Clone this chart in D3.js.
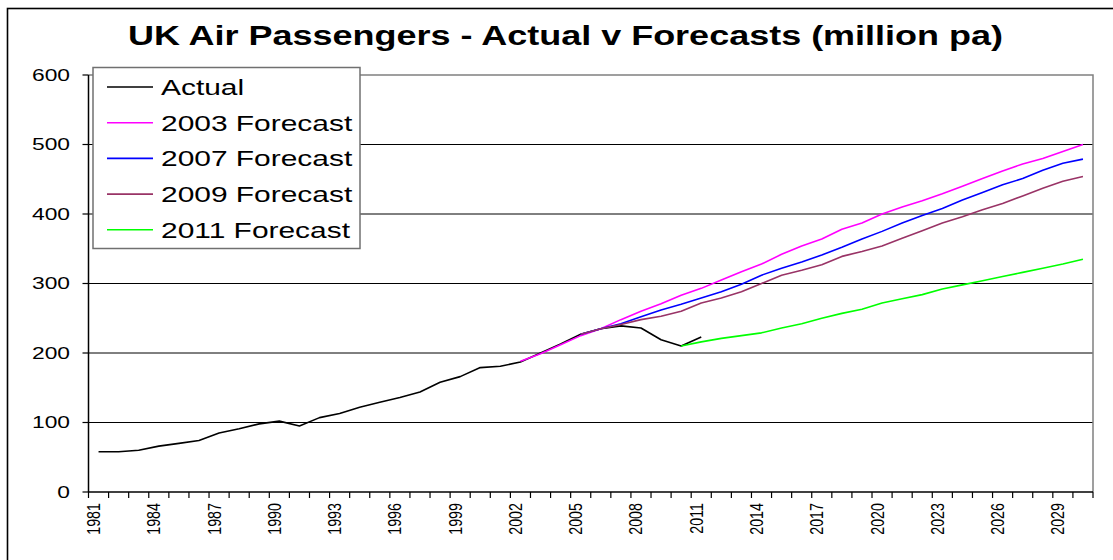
<!DOCTYPE html>
<html>
<head>
<meta charset="utf-8">
<script src="https://cdn.jsdelivr.net/npm/d3@7/dist/d3.min.js"></script>
<style>
  html, body { margin: 0; padding: 0; background: #fff; }
  svg { display: block; }
  text { font-family: "Liberation Sans", Arial, Helvetica, sans-serif; fill: #000; }
</style>
</head>
<body>
<svg id="chart" width="1113" height="560"></svg>
<script>
// Year categories on the x axis
const years = [1981,1982,1983,1984,1985,1986,1987,1988,1989,1990,
               1991,1992,1993,1994,1995,1996,1997,1998,1999,2000,
               2001,2002,2003,2004,2005,2006,2007,2008,2009,2010,
               2011,2012,2013,2014,2015,2016,2017,2018,2019,2020,
               2021,2022,2023,2024,2025,2026,2027,2028,2029,2030];

// Passengers, million per annum (null = no value for that year)
const actual = [58,58,60,66,70,74,85,91,98,102,
                95,107,113,122,129,136,144,158,166,179,
                181,187,200,213,227,235,239,236,219,210,
                223,null,null,null,null,null,null,null,null,null,
                null,null,null,null,null,null,null,null,null,null];

const forecast2003 = [null,null,null,null,null,null,null,null,null,null,
                      null,null,null,null,null,null,null,null,null,null,
                      null,188,199,212,225,235,248,260,271,283,
                      293,305,317,328,342,354,364,378,387,400,
                      410,419,429,440,451,462,472,480,490,500];

const forecast2007 = [null,null,null,null,null,null,null,null,null,null,
                      null,null,null,null,null,null,null,null,null,null,
                      null,null,null,null,227,235,242,252,262,270,
                      279,288,299,312,322,331,341,352,364,375,
                      387,398,408,420,431,442,451,463,473,479];

const forecast2009 = [null,null,null,null,null,null,null,null,null,null,
                      null,null,null,null,null,null,null,null,null,null,
                      null,null,null,null,227,235,241,248,253,260,
                      272,279,288,300,312,319,327,339,346,354,
                      365,376,387,396,406,415,426,437,447,454];

const forecast2011 = [null,null,null,null,null,null,null,null,null,null,
                      null,null,null,null,null,null,null,null,null,null,
                      null,null,null,null,null,null,null,null,null,210,
                      216,221,225,229,236,242,250,257,263,272,
                      278,284,292,298,304,310,316,322,328,335];

const seriesNames = ["Actual", "2003 Forecast", "2007 Forecast", "2009 Forecast", "2011 Forecast"];
const seriesValues = [actual, forecast2003, forecast2007, forecast2009, forecast2011];
const seriesColors = ["#000000", "#ff00ff", "#0000ff", "#993366", "#00ff00"];

const yTicks = [0, 100, 200, 300, 400, 500, 600];
const xLabelYears = [1981,1984,1987,1990,1993,1996,1999,2002,2005,2008,2011,2014,2017,2020,2023,2026,2029];

const titleText = "UK Air Passengers - Actual v Forecasts (million pa)";

// ---- layout ----
const plot = { left: 88.5, right: 1093, top: 75, bottom: 492 };

const svg = d3.select("#chart");

const x = d3.scaleBand().domain(years).range([plot.left, plot.right]).padding(0);
const y = d3.scaleLinear().domain([0, 600]).range([plot.bottom, plot.top]);
const cx = yr => x(yr) + x.bandwidth() / 2;

// outer chart frame
svg.append("rect")
  .attr("x", 7.5).attr("y", 8.5).attr("width", 1200).attr("height", 700)
  .attr("fill", "none").attr("stroke", "#000").attr("stroke-width", 1.6);

// title, widened to the chart's stretched lettering
const title = svg.append("text")
  .attr("x", 565.5).attr("y", 45)
  .attr("text-anchor", "middle")
  .style("font-size", "28px").style("font-weight", "bold")
  .text(titleText);
title.attr("textLength", 875).attr("lengthAdjust", "spacingAndGlyphs");

// horizontal gridlines
svg.append("g").selectAll("line")
  .data(yTicks.filter(d => d > 0 && d < 600))
  .join("line")
  .attr("x1", plot.left).attr("x2", plot.right)
  .attr("y1", d => y(d)).attr("y2", d => y(d))
  .attr("stroke", "#000").attr("stroke-width", 1);

// plot area border (top and right)
svg.append("path")
  .attr("d", `M${plot.left},${y(600)}H${plot.right}V${plot.bottom}`)
  .attr("fill", "none").attr("stroke", "#808080").attr("stroke-width", 1.5);

// series lines
const line = d3.line()
  .defined(d => d.v !== null)
  .x(d => cx(d.year))
  .y(d => y(d.v));

svg.append("g").selectAll("path")
  .data(seriesValues.map((vals, i) => ({
    color: seriesColors[i],
    pts: years.map((yr, j) => ({ year: yr, v: vals[j] }))
  })))
  .join("path")
  .attr("d", d => line(d.pts))
  .attr("fill", "none")
  .attr("stroke", d => d.color)
  .attr("stroke-width", 1.6)
  .attr("stroke-linejoin", "round");

// y axis
const yAxis = svg.append("g");
yAxis.append("line")
  .attr("x1", plot.left).attr("x2", plot.left)
  .attr("y1", plot.top).attr("y2", plot.bottom)
  .attr("stroke", "#000").attr("stroke-width", 1.5);
yAxis.selectAll("line.tick").data(yTicks).join("line")
  .attr("class", "tick")
  .attr("x1", plot.left - 6).attr("x2", plot.left)
  .attr("y1", d => y(d)).attr("y2", d => y(d))
  .attr("stroke", "#000").attr("stroke-width", 1.2);
yAxis.selectAll("text").data(yTicks).join("text")
  .attr("transform", d => `translate(70,${y(d) + 5.8}) scale(1.4,1)`)
  .attr("text-anchor", "end")
  .style("font-size", "16.3px")
  .text(d => d);

// x axis
const xAxis = svg.append("g");
xAxis.append("line")
  .attr("x1", plot.left).attr("x2", plot.right)
  .attr("y1", plot.bottom).attr("y2", plot.bottom)
  .attr("stroke", "#000").attr("stroke-width", 1.5);
const boundaries = years.map(yr => x(yr)).concat([plot.right]);
xAxis.selectAll("line.tick").data(boundaries).join("line")
  .attr("class", "tick")
  .attr("x1", d => d).attr("x2", d => d)
  .attr("y1", plot.bottom).attr("y2", plot.bottom + 6)
  .attr("stroke", "#000").attr("stroke-width", 1.2);
xAxis.selectAll("text").data(xLabelYears).join("text")
  .attr("transform", d => `translate(${cx(d) + 1.5},503) rotate(-90) scale(1,1.3)`)
  .attr("text-anchor", "end")
  .style("font-size", "14.3px")
  .text(d => d);

// legend
const legend = svg.append("g");
legend.append("rect")
  .attr("x", 93).attr("y", 67.5).attr("width", 267).attr("height", 181)
  .attr("fill", "#fff").attr("stroke", "#707070").attr("stroke-width", 1.5);
const rowY = i => 87 + i * 35.7;
const entries = legend.selectAll("g.entry")
  .data(seriesNames.map((name, i) => ({ name, color: seriesColors[i], i })))
  .join("g").attr("class", "entry");
entries.append("line")
  .attr("x1", 107).attr("x2", 153)
  .attr("y1", d => rowY(d.i)).attr("y2", d => rowY(d.i))
  .attr("stroke", d => d.color).attr("stroke-width", 1.6);
entries.append("text")
  .attr("transform", d => `translate(161,${rowY(d.i) + 7.9}) scale(1.36,1)`)
  .style("font-size", "22px")
  .text(d => d.name);
</script>
</body>
</html>
